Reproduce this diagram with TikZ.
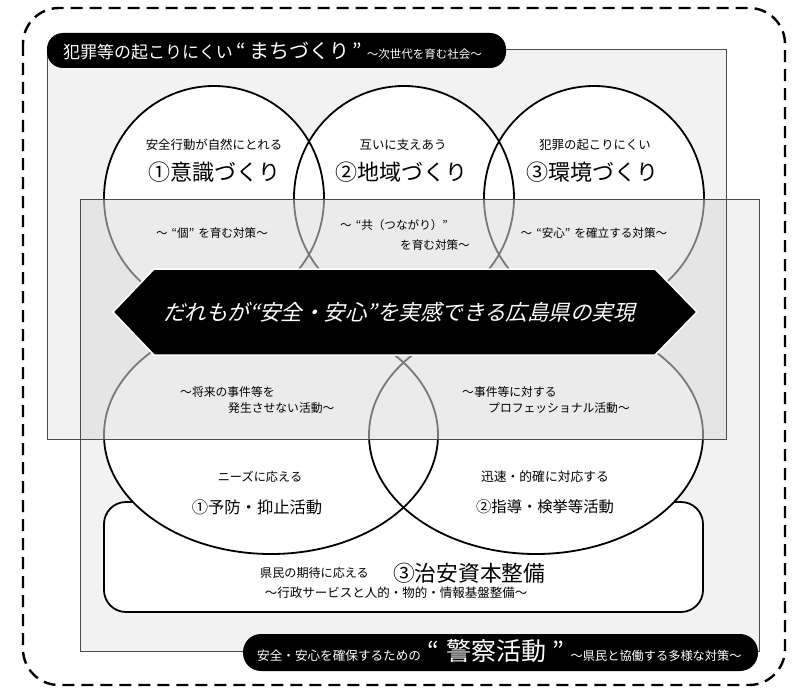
\documentclass[tikz,border=0pt]{standalone}
\usepackage{fontspec}
\setmainfont{Noto Sans CJK JP}
\newfontfamily\jpit[FakeSlant=0.25]{Noto Sans CJK JP}
\newcommand\jfs[1]{\fontsize{#1}{#1}\selectfont}
\definecolor{panel}{HTML}{F2F2F2}
\definecolor{veil}{HTML}{DCDCDC}
\tikzset{
  ring/.style={line width=1.8pt, draw=black},
  panelline/.style={draw=black!70, line width=0.8pt},
  lbl/.style={inner sep=0pt, text=black},
  wlbl/.style={inner sep=0pt, text=white},
}
\begin{document}
\begin{tikzpicture}[x=1pt,y=-1pt]
\useasboundingbox (0,0) rectangle (805,690);
% outer dashed frame
\draw[line width=2.4pt, dash pattern=on 12pt off 7pt, rounded corners=36pt] (23,8) rectangle (785,685);
% panels
\fill[panel] (47,49) rectangle (726,439);
\fill[panel] (80,199) rectangle (759,651);
% lower white box
\draw[fill=white, line width=1.8pt, rounded corners=22pt] (104,502) rectangle (703,612);
% top circles
\foreach \cx in {214,404,594} \fill[white] (\cx,198) ellipse [x radius=110pt, y radius=112pt];
\foreach \cx in {214,404,594} \draw[ring] (\cx,198) ellipse [x radius=110pt, y radius=112pt];
% lower ellipses
\foreach \cx in {271,536} \fill[white] (\cx,435) ellipse [x radius=167pt, y radius=119pt];
\foreach \cx in {271,536} \draw[ring] (\cx,435) ellipse [x radius=167pt, y radius=119pt];
% veil over the overlap band
\fill[veil, fill opacity=0.55] (80,199) rectangle (726,439);
% panel outlines
\draw[panelline] (47,49) rectangle (726,439);
\draw[panelline] (80,199) rectangle (759,651);
% central hexagon
\draw[fill=black, draw=white, line width=1.5pt] (113,312) -- (154,269) -- (655,269) -- (697,312) -- (655,355) -- (154,355) -- cycle;
% pills
\fill[rounded corners=16pt] (47,33) rectangle (506,68);
\fill[rounded corners=18pt] (243,634) rectangle (758,671);
% pill texts
\node[wlbl, anchor=base west] (toplabel) at (63,59) {\jfs{17}犯罪等の起こりにくい\hspace{4pt}\jfs{20}“\hspace{3pt}まちづくり\hspace{3pt}”\hspace{5pt}\jfs{11.5}～次世代を育む社会～};
\node[wlbl, anchor=base west] (botlabel) at (257,660) {\jfs{12.6}安全・安心を確保するための\hspace{6pt}\jfs{25}“\hspace{8pt}警察活動\hspace{6pt}”\hspace{6pt}\jfs{12.2}～県民と協働する多様な対策～};
% goal
\node[wlbl] (goal) at (399,312) {\jpit\jfs{21.5}だれもが“安全・安心”を実感できる広島県の実現};
% top circle texts
\node[lbl] (a1) at (214,145) {\jfs{12.4}安全行動が自然にとれる};
\node[lbl] (a2) at (214,172) {\jfs{22}①意識づくり};
\node[lbl] (b1) at (403,145) {\jfs{12.4}互いに支えあう};
\node[lbl] (b2) at (401,172) {\jfs{22}②地域づくり};
\node[lbl] (c1) at (595,145) {\jfs{12.4}犯罪の起こりにくい};
\node[lbl] (c2) at (592,172) {\jfs{22}③環境づくり};
% band texts
\node[lbl] (a3) at (212,233) {\jfs{11.6}～\hspace{4pt}“個”\hspace{4pt}を育む対策～};
\node[lbl, anchor=west] (b3) at (340,225) {\jfs{11.6}～\hspace{4pt}“共（つながり）”};
\node[lbl, anchor=west] (b4) at (400,245) {\jfs{11.6}を育む対策～};
\node[lbl] (c3) at (594,233) {\jfs{11.6}～\hspace{4pt}“安心”\hspace{4pt}を確立する対策～};
% lower band texts
\node[lbl, anchor=west] (p1) at (180,392) {\jfs{11.8}～将来の事件等を};
\node[lbl, anchor=west] (p2) at (228,408) {\jfs{11.8}発生させない活動～};
\node[lbl, anchor=west] (q1) at (462,392) {\jfs{11.8}～事件等に対する};
\node[lbl, anchor=west] (q2) at (488,408) {\jfs{11.8}プロフェッショナル活動～};
% lower ellipse texts
\node[lbl] (p3) at (260,477) {\jfs{12.2}ニーズに応える};
\node[lbl] (p4) at (257,507) {\jfs{16.3}①予防・抑止活動};
\node[lbl] (q3) at (545,477) {\jfs{12.8}迅速・的確に対応する};
\node[lbl] (q4) at (545,507) {\jfs{15.3}②指導・検挙等活動};
% box texts
\node[lbl, anchor=west] (r1) at (260,573) {\jfs{12.1}県民の期待に応える};
\node[lbl, anchor=west] (r2) at (393,573) {\jfs{21.7}③治安資本整備};
\node[lbl] (r3) at (396,593) {\jfs{12.5}～行政サービスと人的・物的・情報基盤整備～};
\end{tikzpicture}
\end{document}
